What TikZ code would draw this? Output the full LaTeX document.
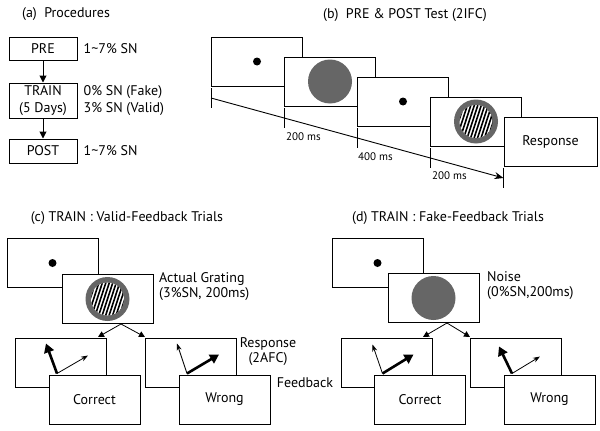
\documentclass[tikz,border=0pt]{standalone}
\usepackage{fontspec}
\setmainfont{PT Sans}
\usetikzlibrary{arrows.meta, positioning, calc}

\tikzset{
  noise disc/.pic={\fill[black!60] (0,0) circle[radius=22];},
  grating disc/.pic={
    \fill[black!60] (0,0) circle[radius=22];
    \begin{scope}
      \clip (0,0) circle[radius=16.5];
      \fill[white] (0,0) circle[radius=16.5];
      \foreach \k in {-7,...,7}
        \fill[black, rotate=-18] (\k*3.3-0.8,-25) rectangle (\k*3.3+0.8,25);
    \end{scope}
  },
}

\begin{document}
\begin{tikzpicture}[
  x=1pt, y=-1pt,
  font=\fontsize{14}{15}\selectfont,
  stage/.style={rectangle, draw, line width=1pt, minimum width=68pt, inner sep=0pt, align=center},
  screen/.style={rectangle, draw, fill=white, line width=1pt, minimum width=91pt, minimum height=49pt, inner sep=0pt},
  note/.style={align=left, inner sep=0pt, anchor=west},
  timing/.style={font=\fontsize{11}{12}\selectfont, inner sep=0pt, anchor=west},
  title/.style={inner sep=0pt},
  fixdot/.style={circle, fill=black, inner sep=0pt, minimum size=8pt},
  flow/.style={-{Triangle[length=7pt, width=7pt]}, line width=1pt},
  split/.style={-{Triangle[length=6pt, width=6pt]}, line width=0.8pt},
  timeline/.style={-{Stealth[length=9pt, width=7pt]}, line width=0.9pt},
  thinchoice/.style={-{Stealth[length=7pt, width=5pt]}, line width=0.8pt},
  boldchoice/.style={-{Triangle[length=9pt, width=10pt]}, line width=2.6pt},
  tickmark/.style={line width=0.9pt}
]
\useasboundingbox (0,0) rectangle (600,431);

% (a) Procedures
\node[title] (ttla) at (66,14) {(a)\ \ Procedures};
\node[stage, minimum height=23pt] (pre) at (43,48.5) {PRE};
\node[stage, minimum height=35pt, below=22pt of pre, font=\fontsize{14}{17}\selectfont] (train) {TRAIN\\(5 Days)};
\node[stage, minimum height=24pt, below=20pt of train] (post) {POST};
\draw[flow] (pre) -- (train);
\draw[flow] (train) -- (post);
\node[note, right=6pt of pre] (snpre) {1\textasciitilde7\% SN};
\node[note, right=6pt of train, font=\fontsize{14}{17}\selectfont] (sntrain) {0\% SN (Fake)\\3\% SN (Valid)};
\node[note, right=6pt of post] (snpost) {1\textasciitilde7\% SN};

% (b) PRE & POST test
\node[title] (ttlb) at (405,15) {(b)\ \ PRE \& POST Test (2IFC)};
\node[screen] (b1) at (257,61.5) {};
\node[fixdot] (b1dot) at (b1.center) {};
\node[screen] (b2) at ($(b1)+(73,20)$) {};
\pic at (b2.center) {noise disc};
\node[screen] (b3) at ($(b2)+(73,20)$) {};
\node[fixdot] (b3dot) at (b3.center) {};
\node[screen] (b4) at ($(b3)+(73,20)$) {};
\pic at (b4.center) {grating disc};
\node[screen, minimum width=93pt] (resp) at ($(b4)+(74.5,20)$) {Response};

\foreach \n/\i in {b1/1, b2/2, b3/3, b4/4, resp/5} {
  \coordinate (t\i) at ($(\n.south west)+(0,11.5)$);
  \draw[tickmark] ($(t\i)+(0,-10)$) -- ($(t\i)+(0,10)$);
}
\draw[timeline] (t1) -- (t5);
\node[timing] (ms1) at ($(t2)+(2,19)$) {200 ms};
\node[timing] (ms2) at ($(t3)+(1,19)$) {400 ms};
\node[timing] (ms3) at ($(t4)+(2,18)$) {200 ms};

% (c) Valid feedback
\node[title] (ttlc) at (127,218) {(c) TRAIN : Valid-Feedback Trials};
\node[screen] (c1) at (52.5,263) {};
\node[fixdot] (c1dot) at (c1.center) {};
\node[screen] (c2) at ($(c1)+(55,36)$) {};
\pic at (c2.center) {grating disc};
\node[note] (lblc) at (159,287) {Actual Grating\\(3\%SN, 200ms)};

\coordinate (csplit) at ($(c2.south)+(13.5,0)$);
\coordinate (cleft) at ($(csplit)+(-23,13)$);
\coordinate (cright) at ($(csplit)+(24,13)$);
\draw[split] (csplit) -- (cleft);
\draw[split] (csplit) -- (cright);

\node[screen] (cr1) at (61,363) {};
\node[screen] (cok) at ($(cr1)+(33.5,36.5)$) {Correct};
\node[screen] (cr2) at (191,363) {};
\node[screen] (cno) at ($(cr2)+(33.5,36.5)$) {Wrong};

\coordinate (co1) at ($(cok.north west)+(8.5,-1)$);
\coordinate (co2) at ($(cno.north west)+(8.5,-1)$);
\draw[boldchoice] (co1) -- ++(-11,-30);
\draw[thinchoice] (co1) -- ++(31,-18);
\draw[thinchoice] (co2) -- ++(-10,-30);
\draw[boldchoice] (co2) -- ++(32,-19);

\node[align=center, inner sep=0pt] (lblresp) at (268,352) {Response\\(2AFC)};
\node[inner sep=0pt] (lblfb) at (305,383) {Feedback};

% (d) Fake feedback
\node[title] (ttld) at (448,218) {(d) TRAIN : Fake-Feedback Trials};
\node[screen] (d1) at (377.5,263) {};
\node[fixdot] (d1dot) at (d1.center) {};
\node[screen] (d2) at ($(d1)+(56,35)$) {};
\pic at (d2.center) {noise disc};
\node[note] (lbld) at (487,286) {Noise\\(0\%SN,200ms)};

\coordinate (dsplit) at ($(d2.south)+(13.5,0)$);
\coordinate (dleft) at ($(dsplit)+(-24,14)$);
\coordinate (dright) at ($(dsplit)+(23,14)$);
\draw[split] (dsplit) -- (dleft);
\draw[split] (dsplit) -- (dright);

\node[screen] (dr1) at (386.5,363) {};
\node[screen] (dok) at ($(dr1)+(33.5,36.5)$) {Correct};
\node[screen] (dr2) at (516,363) {};
\node[screen] (dno) at ($(dr2)+(33.5,36.5)$) {Wrong};

\coordinate (do1) at ($(dok.north west)+(8.5,-1)$);
\coordinate (do2) at ($(dno.north west)+(8.5,-1)$);
\draw[thinchoice] (do1) -- ++(-10,-29);
\draw[boldchoice] (do1) -- ++(31,-19);
\draw[boldchoice] (do2) -- ++(-13,-27);
\draw[thinchoice] (do2) -- ++(28,-17);

\end{tikzpicture}
\end{document}
